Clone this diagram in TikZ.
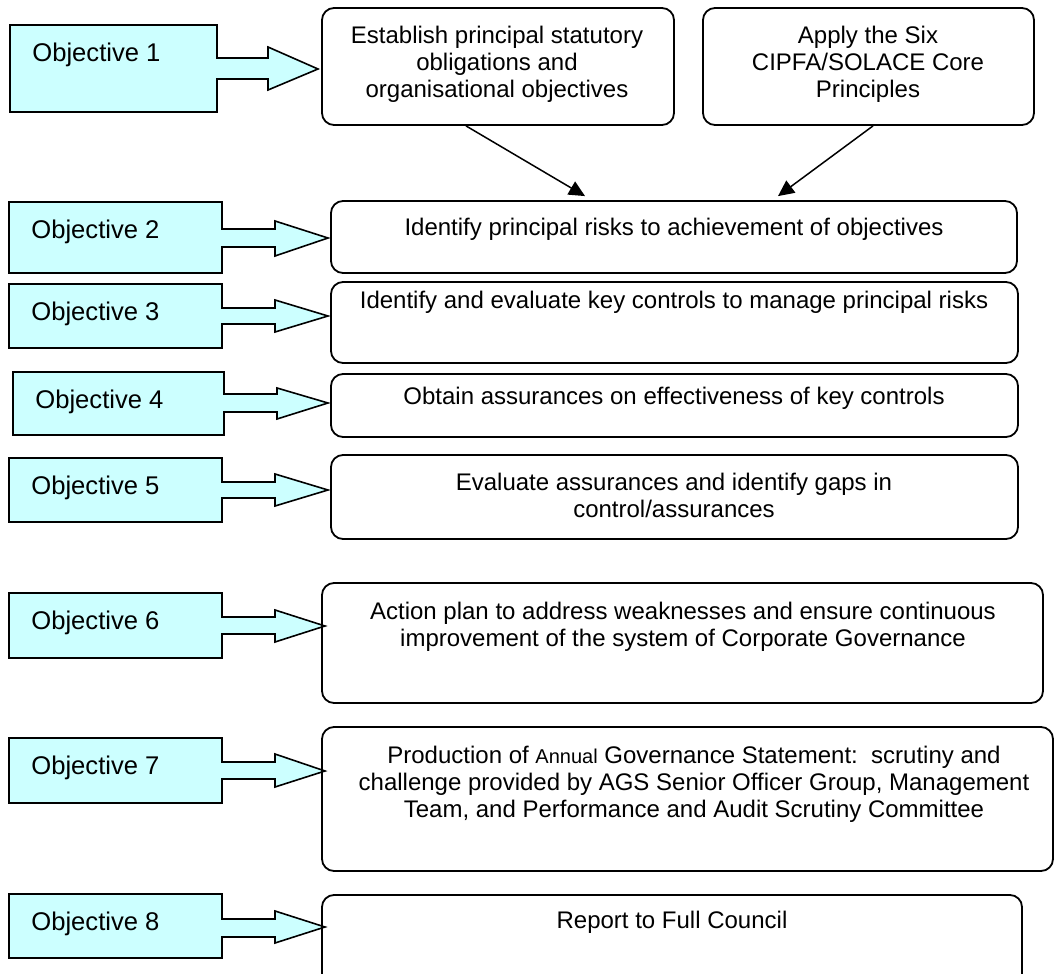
\documentclass[tikz,border=0pt]{standalone}
\usepackage{fontspec}
\setmainfont{Liberation Sans}
\usetikzlibrary{arrows.meta}
\definecolor{objcyan}{RGB}{204,255,255}
\tikzset{
  objshape/.style={draw=black, fill=objcyan, line width=0.8pt, line join=miter},
  objlabel/.style={anchor=west, inner sep=0pt, font=\fontsize{12.8}{15}\selectfont},
  stepbox/.style={draw=black, line width=0.9pt, rounded corners=6pt, inner sep=0pt},
  steptext/.style={align=center, inner sep=0pt, font=\fontsize{12}{13.5}\selectfont},
  feed/.style={line width=0.75pt, -{Triangle[length=8pt,width=7.5pt]}}
}

\begin{document}
\begin{tikzpicture}[x=0.5pt, y=-0.5pt]
      \useasboundingbox (0,0) rectangle (1055,974);
      \foreach \n/\xa/\ya/\xb/\yb/\sa/\sb/\hx/\tx/\ha/\hb/\ty in {
          1/10/25/217/112/58/79/268/318/47/90/69,
          2/9/202/222/273/229/247/275/328/221/256/238,
          3/9/284/222/348/308/324/275/328/300/332/316,
          4/13/372/224/435/394/412/277/328/388/419/403,
          5/9/458/222/522/482/498/275/328/474/506/490,
          6/9/593/222/658/617/634/275/325/610/642/626,
          7/9/738/222/803/762/779/275/325/754/787/771,
          8/9/894/222/958/919/937/275/325/911/943/927} {
        \draw[objshape] (\xa,\ya) -- (\xb,\ya) -- (\xb,\sa) -- (\hx,\sa) -- (\hx,\ha) -- (\tx,\ty)
          -- (\hx,\hb) -- (\hx,\sb) -- (\xb,\sb) -- (\xb,\yb) -- (\xa,\yb) -- cycle;
        \node[objlabel] (obj\n) at (\xa+22,\ya+30) {Objective \n};
      }
      \node[stepbox, minimum width=176pt, minimum height=58.5pt] (est) at (498,66.5) {};
      \node[stepbox, minimum width=165.5pt, minimum height=58.5pt] (apply) at (868.5,66.5) {};
      \node[stepbox, minimum width=343pt, minimum height=36pt] (risks) at (674,237) {};
      \node[stepbox, minimum width=343.5pt, minimum height=40.5pt] (controls) at (674.5,322.5) {};
      \node[stepbox, minimum width=343.5pt, minimum height=31.5pt] (assure) at (674.5,405.5) {};
      \node[stepbox, minimum width=343.5pt, minimum height=42pt] (gaps) at (674.5,497) {};
      \node[stepbox, minimum width=360.5pt, minimum height=60pt] (action) at (682.5,643) {};
      \node[stepbox, minimum width=365.5pt, minimum height=72pt] (ags) at (687.5,799) {};
      \node[stepbox, minimum width=350pt, minimum height=47.5pt] (council) at (672,942.5) {};
      \node[steptext] (est text) at (497,64) {Establish principal statutory\\obligations and\\organisational objectives};
      \node[steptext] (apply text) at (868,64) {Apply the Six\\CIPFA/SOLACE Core\\Principles};
      \node[steptext] (risks text) at (674,229) {Identify principal risks to achievement of objectives};
      \node[steptext] (controls text) at (674,302) {Identify and evaluate key controls to manage principal risks};
      \node[steptext] (assure text) at (674,398) {Obtain assurances on effectiveness of key controls};
      \node[steptext] (gaps text) at (674,495.5) {Evaluate assurances and identify gaps in\\control/assurances};
      \node[steptext] (action text) at (683,627) {Action plan to address weaknesses and ensure continuous\\improvement of the system of Corporate Governance};
      \node[steptext] (ags text) at (694,784.5) {Production of {\fontsize{10}{13.5}\selectfont Annual} Governance Statement:~~scrutiny and\\challenge provided by AGS Senior Officer Group, Management\\Team, and Performance and Audit Scrutiny Committee};
      \node[steptext] (council text) at (672,922) {Report to Full Council};
      \draw[feed] ([xshift=-16pt]est.south) -- ([xshift=-44.5pt,yshift=2pt]risks.north);
      \draw[feed] ([xshift=2.25pt]apply.south) -- ([xshift=52pt,yshift=2pt]risks.north);
\end{tikzpicture}
\end{document}
